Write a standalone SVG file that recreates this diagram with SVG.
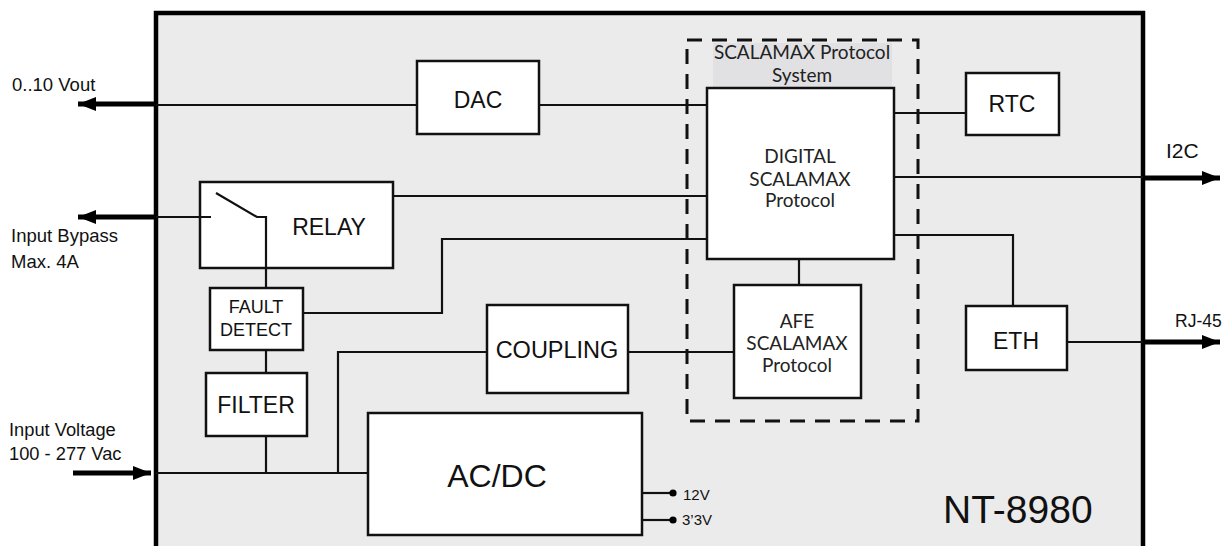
<svg xmlns="http://www.w3.org/2000/svg" width="1231" height="546" viewBox="0 0 1231 546">
<style>
.box{fill:#fff;stroke:#111;stroke-width:2.5}
.ln{fill:none;stroke:#111;stroke-width:2.2}
.thick{fill:none;stroke:#000;stroke-width:5}
.t{font-family:"Liberation Sans",Arial,sans-serif;fill:#111}
.l{font-family:Lato,"Open Sans",sans-serif;fill:#222;font-size:19px;text-anchor:middle}
.c{text-anchor:middle}
</style>
<defs>
<marker id="ah" markerUnits="userSpaceOnUse" markerWidth="20" markerHeight="14" refX="18" refY="7" orient="auto">
<path d="M0,0 L18,7 L0,14 Z" fill="#000"/>
</marker>
</defs>
<g id="enclosure">
<rect x="156" y="13" width="987" height="560" fill="#ebebeb" stroke="#000" stroke-width="4.5"/>
<text class="t" x="943" y="523" font-size="39">NT-8980</text>
</g>
<g id="scalamax-system">
<rect x="687" y="40" width="231" height="381" fill="none" stroke="#111" stroke-width="3" stroke-dasharray="15 10"/>
<rect x="713" y="43" width="179" height="45" fill="#e1e1e4"/>
<text class="l" x="802" y="59" font-size="18.7">SCALAMAX Protocol</text>
<text class="l" x="802" y="82" font-size="18.7">System</text>
</g>
<g id="connectors">
<line class="ln" x1="156" y1="105" x2="417" y2="105"/>
<line class="ln" x1="539" y1="105" x2="707" y2="105"/>
<line class="ln" x1="894" y1="113" x2="966" y2="113"/>
<line class="ln" x1="894" y1="177" x2="1143" y2="177"/>
<polyline class="ln" points="894,235 1013,235 1013,306"/>
<line class="ln" x1="1067" y1="342" x2="1143" y2="342"/>
<line class="ln" x1="393" y1="196" x2="707" y2="196"/>
<polyline class="ln" points="303,313 442,313 442,239 707,239"/>
<line class="ln" x1="266" y1="350" x2="266" y2="373"/>
<line class="ln" x1="266" y1="436" x2="266" y2="473"/>
<line class="ln" x1="156" y1="473" x2="368" y2="473"/>
<polyline class="ln" points="338,473 338,352 487,352"/>
<line class="ln" x1="628" y1="352" x2="734" y2="352"/>
<line class="ln" x1="799" y1="259" x2="799" y2="285"/>
<line class="ln" x1="642" y1="493" x2="673" y2="493"/>
<line class="ln" x1="642" y1="520" x2="673" y2="520"/>
<circle cx="673" cy="493" r="3.6" fill="#000"/>
<circle cx="673" cy="520" r="3.6" fill="#000"/>
<line class="thick" x1="156" y1="104" x2="78" y2="104" marker-end="url(#ah)"/>
<line class="thick" x1="156" y1="217" x2="78" y2="217" marker-end="url(#ah)"/>
<line class="thick" x1="73" y1="473" x2="151" y2="473" marker-end="url(#ah)"/>
<line class="thick" x1="1143" y1="178" x2="1220" y2="178" marker-end="url(#ah)"/>
<line class="thick" x1="1143" y1="342" x2="1220" y2="342" marker-end="url(#ah)"/>
</g>
<g id="labels">
<text class="t" x="12" y="91" font-size="18.5">0..10 Vout</text>
<text class="t" x="11" y="242" font-size="18.5">Input Bypass</text>
<text class="t" x="11" y="268" font-size="18.5">Max. 4A</text>
<text class="t" x="9" y="436" font-size="18.3">Input Voltage</text>
<text class="t" x="9" y="460" font-size="18.3">100 - 277 Vac</text>
<text class="t" x="1166" y="158" font-size="21">I2C</text>
<text class="t" x="1175" y="327" font-size="17.5">RJ-45</text>
<text class="t" x="683" y="500" font-size="15">12V</text>
<text class="t" x="682" y="525" font-size="15">3’3V</text>
</g>
<g id="dac">
<rect class="box" x="417" y="61" width="122" height="73"/>
<text class="t c" x="478" y="108" font-size="23">DAC</text>
</g>
<g id="digital">
<rect class="box" x="707" y="88" width="187" height="171"/>
<text class="l" x="800" y="163">DIGITAL</text>
<text class="l" x="800" y="186">SCALAMAX</text>
<text class="l" x="800" y="207">Protocol</text>
</g>
<g id="rtc">
<rect class="box" x="966" y="73" width="93" height="62"/>
<text class="t c" x="1012" y="112" font-size="23">RTC</text>
</g>
<g id="eth">
<rect class="box" x="966" y="306" width="101" height="64"/>
<text class="t c" x="1016" y="349" font-size="23">ETH</text>
</g>
<g id="relay">
<rect class="box" x="200" y="182" width="193" height="86"/>
<text class="t c" x="329" y="235" font-size="23">RELAY</text>
<line class="ln" x1="156" y1="217" x2="211" y2="217"/>
<polyline class="ln" points="216,193 257,217 266,217 266,288"/>
</g>
<g id="fault-detect">
<rect class="box" x="210" y="288" width="93" height="62"/>
<text class="t c" x="256" y="313" font-size="18">FAULT</text>
<text class="t c" x="256" y="336" font-size="18">DETECT</text>
</g>
<g id="filter">
<rect class="box" x="206" y="373" width="101" height="63"/>
<text class="t c" x="256" y="413" font-size="23">FILTER</text>
</g>
<g id="coupling">
<rect class="box" x="487" y="305" width="141" height="88"/>
<text class="t c" x="557" y="358" font-size="23.5">COUPLING</text>
</g>
<g id="afe">
<rect class="box" x="734" y="285" width="127" height="113"/>
<text class="l" x="797" y="328">AFE</text>
<text class="l" x="797" y="350">SCALAMAX</text>
<text class="l" x="797" y="372">Protocol</text>
</g>
<g id="acdc">
<rect class="box" x="368" y="413" width="274" height="122"/>
<text class="t c" x="497" y="487" font-size="32">AC/DC</text>
</g>
</svg>
